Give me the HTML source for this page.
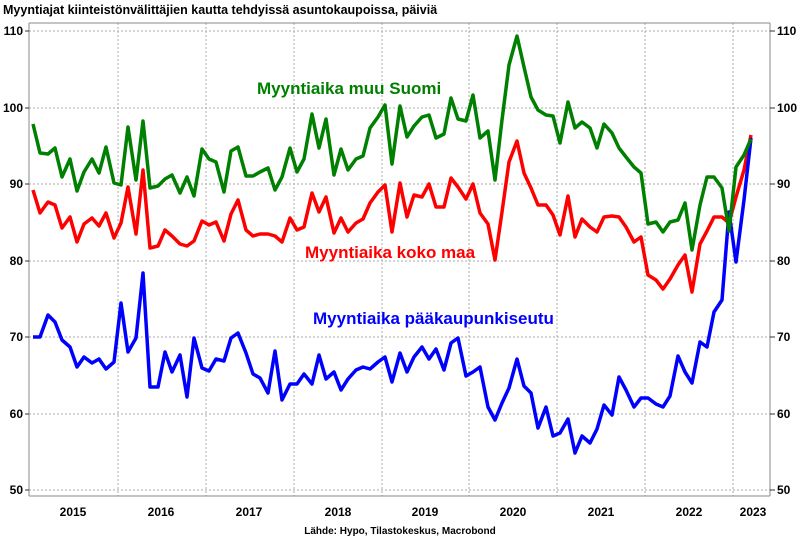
<!DOCTYPE html>
<html><head><meta charset="utf-8"><style>
html,body{margin:0;padding:0;background:#fff;}
svg{display:block;font-family:"Liberation Sans",sans-serif;}
</style></head><body>
<svg width="800" height="540" viewBox="0 0 800 540" xmlns="http://www.w3.org/2000/svg">
<text x="3" y="14" font-size="12.5" font-weight="bold" fill="#000">Myyntiajat kiinteistönvälittäjien kautta tehdyissä asuntokaupoissa, päiviä</text>
<g stroke="#aaa" stroke-width="1" stroke-dasharray="2,2">
<line x1="29" y1="31" x2="770" y2="31"/><line x1="29" y1="108" x2="770" y2="108"/><line x1="29" y1="184" x2="770" y2="184"/><line x1="29" y1="261" x2="770" y2="261"/><line x1="29" y1="337" x2="770" y2="337"/><line x1="29" y1="414" x2="770" y2="414"/><line x1="29" y1="490" x2="770" y2="490"/>
<line x1="118" y1="23" x2="118" y2="496"/><line x1="206" y1="23" x2="206" y2="496"/><line x1="294" y1="23" x2="294" y2="496"/><line x1="382" y1="23" x2="382" y2="496"/><line x1="469" y1="23" x2="469" y2="496"/><line x1="557" y1="23" x2="557" y2="496"/><line x1="645" y1="23" x2="645" y2="496"/><line x1="733" y1="23" x2="733" y2="496"/>
</g>
<g stroke="#888" stroke-width="1" fill="none">
<line x1="29" y1="23" x2="770" y2="23"/>
<line x1="29" y1="23" x2="29" y2="496"/>
<line x1="770" y1="23" x2="770" y2="496"/>
<line x1="29" y1="496" x2="770" y2="496"/>
</g>
<g stroke="#333" stroke-width="1">
<line x1="25" y1="31" x2="29" y2="31"/><line x1="25" y1="108" x2="29" y2="108"/><line x1="25" y1="184" x2="29" y2="184"/><line x1="25" y1="261" x2="29" y2="261"/><line x1="25" y1="337" x2="29" y2="337"/><line x1="25" y1="414" x2="29" y2="414"/><line x1="25" y1="490" x2="29" y2="490"/>
<line x1="770" y1="31" x2="775" y2="31"/><line x1="770" y1="108" x2="775" y2="108"/><line x1="770" y1="184" x2="775" y2="184"/><line x1="770" y1="261" x2="775" y2="261"/><line x1="770" y1="337" x2="775" y2="337"/><line x1="770" y1="414" x2="775" y2="414"/><line x1="770" y1="490" x2="775" y2="490"/>
</g>
<g font-size="12" font-weight="bold" fill="#000" text-anchor="end">
<text x="23" y="35">110</text><text x="23" y="112">100</text><text x="23" y="188">90</text><text x="23" y="265">80</text><text x="23" y="341">70</text><text x="23" y="418">60</text><text x="23" y="494">50</text>
</g>
<g font-size="12" font-weight="bold" fill="#000">
<text x="777" y="35">110</text><text x="777" y="112">100</text><text x="777" y="188">90</text><text x="777" y="265">80</text><text x="777" y="341">70</text><text x="777" y="418">60</text><text x="777" y="494">50</text>
</g>
<g font-size="12" font-weight="bold" fill="#000" text-anchor="middle">
<text x="73" y="516">2015</text><text x="161" y="516">2016</text><text x="249" y="516">2017</text><text x="338" y="516">2018</text><text x="425" y="516">2019</text><text x="513" y="516">2020</text><text x="601" y="516">2021</text><text x="689" y="516">2022</text><text x="753" y="516">2023</text>
</g>
<text x="400" y="534" font-size="10" font-weight="bold" fill="#000" text-anchor="middle">Lähde: Hypo, Tilastokeskus, Macrobond</text>
<g fill="none" stroke-width="3.5" stroke-linejoin="round">
<polyline stroke="#ff0000" points="33,190 40,213 48,202 55,205 62,228 70,217 77,242 84,224 92,218 99,226 106,213 114,238 121,223 128,187 136,234 143,170 150,248 158,246 165,230 172,236 180,244 187,246 194,241 202,221 209,225 216,222 224,241 231,214 238,200 246,230 253,236 260,234 268,234 275,236 282,242 290,218 297,230 304,227 312,193 319,212 326,197 334,233 341,218 348,232 356,223 363,219 370,203 378,192 385,185 392,232 400,183 407,217 414,195 422,197 429,184 436,207 444,207 451,178 458,187 466,199 473,184 480,213 488,224 495,260 502,212 509,162 517,141 524,173 531,188 538,205 546,205 553,215 560,235 568,196 575,237 582,219 590,227 597,232 604,217 612,216 619,217 626,227 634,242 641,237 648,275 656,280 663,289 670,279 678,265 685,255 692,292 700,244 707,231 714,217 722,217 729,223 736,197 744,170 751,135"/>
<polyline stroke="#0000ff" points="33,337 40,337 48,315 55,322 62,340 70,347 77,367 84,357 92,363 99,359 106,369 114,362 121,303 128,352 136,338 143,273 150,387 158,387 165,352 172,372 180,355 187,397 194,338 202,368 209,371 216,359 224,361 231,338 238,333 246,353 253,374 260,378 268,393 275,351 282,400 290,384 297,384 304,374 312,384 319,355 326,379 334,372 341,390 348,379 356,370 363,367 370,369 378,362 385,357 392,382 400,353 407,372 414,357 422,347 429,359 436,349 444,370 451,343 458,338 466,376 473,372 480,367 488,407 495,420 502,403 509,388 517,359 524,386 531,393 538,428 546,407 553,436 560,433 568,419 575,453 582,436 590,443 597,429 604,405 612,415 619,377 626,390 634,407 641,398 648,398 656,404 663,407 670,396 678,356 685,372 692,383 700,342 707,347 714,312 722,300 729,212 736,262 744,200 751,138"/>
<polyline stroke="#008000" points="33,124 40,153 48,154 55,148 62,177 70,159 77,191 84,172 92,159 99,173 106,147 114,183 121,185 128,127 136,180 143,121 150,188 158,186 165,179 172,175 180,193 187,177 194,196 202,149 209,159 216,162 224,192 231,151 238,147 246,176 253,176 260,172 268,168 275,190 282,177 290,148 297,172 304,159 312,114 319,148 326,119 334,175 341,149 348,170 356,159 363,156 370,128 378,117 385,105 392,164 400,106 407,137 414,126 422,117 429,115 436,138 444,134 451,98 458,119 466,121 473,95 480,138 488,131 495,180 502,120 509,65 517,36 524,67 531,97 538,110 546,115 553,116 560,143 568,102 575,128 582,122 590,128 597,148 604,124 612,133 619,148 626,157 634,167 641,173 648,224 656,222 663,232 670,222 678,220 685,203 692,250 700,205 707,177 714,177 722,188 729,231 736,167 744,155 751,139"/>
</g>
<text x="257" y="94" font-size="17" font-weight="bold" fill="#008000">Myyntiaika muu Suomi</text>
<text x="305" y="258" font-size="17" font-weight="bold" fill="#ff0000">Myyntiaika koko maa</text>
<text x="313" y="324" font-size="17" font-weight="bold" fill="#0000ff">Myyntiaika pääkaupunkiseutu</text>
</svg>
</body></html>
